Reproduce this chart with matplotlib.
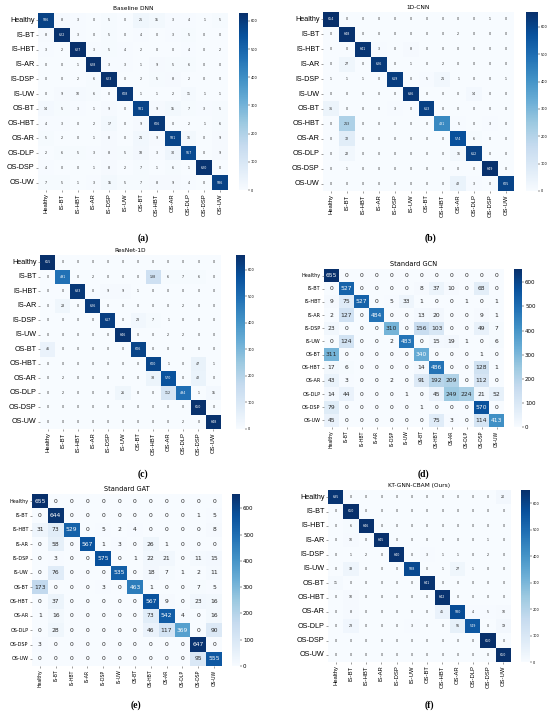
import numpy as np
import matplotlib
matplotlib.use("Agg")
import matplotlib.pyplot as plt
import seaborn as sns

classes = ["Healthy", "IS-BT", "IS-HBT", "IS-AR", "IS-DSP", "IS-UW",
           "OS-BT", "OS-HBT", "OS-AR", "OS-DLP", "OS-DSP", "OS-UW"]

cm_dnn = [
    [586, 8, 3, 0, 5, 0, 25, 15, 3, 4, 1, 5],
    [8, 622, 3, 0, 5, 0, 4, 0, 3, 5, 0, 0],
    [3, 2, 627, 3, 5, 4, 2, 0, 0, 4, 0, 2],
    [0, 0, 1, 628, 3, 3, 1, 9, 5, 6, 0, 0],
    [0, 0, 2, 6, 623, 0, 2, 5, 8, 2, 0, 0],
    [0, 9, 10, 6, 0, 608, 1, 1, 2, 11, 1, 1],
    [14, 5, 3, 1, 9, 0, 581, 9, 15, 7, 3, 5],
    [4, 3, 0, 2, 17, 0, 9, 606, 0, 2, 1, 6],
    [5, 2, 0, 1, 8, 0, 21, 9, 581, 16, 0, 9],
    [2, 6, 5, 3, 8, 5, 18, 3, 30, 567, 0, 9],
    [4, 0, 0, 1, 8, 2, 7, 1, 6, 1, 620, 0],
    [7, 5, 1, 3, 15, 5, 7, 8, 9, 4, 0, 586],
]
cm_cnn = [
    [654, 0, 0, 0, 0, 0, 0, 0, 0, 0, 1, 0],
    [0, 648, 0, 0, 0, 0, 0, 0, 2, 0, 0, 0],
    [0, 0, 641, 3, 0, 8, 0, 0, 0, 0, 0, 0],
    [0, 27, 0, 626, 0, 1, 0, 2, 0, 0, 0, 0],
    [1, 1, 1, 0, 619, 0, 5, 21, 1, 0, 0, 1],
    [0, 0, 0, 0, 0, 636, 0, 0, 0, 14, 0, 0],
    [36, 0, 0, 0, 3, 0, 613, 0, 0, 0, 0, 0],
    [0, 213, 0, 0, 0, 0, 0, 431, 5, 0, 3, 0],
    [0, 72, 0, 0, 0, 0, 0, 0, 574, 6, 0, 0],
    [0, 22, 0, 0, 0, 0, 0, 0, 16, 612, 0, 0],
    [0, 1, 0, 0, 0, 0, 0, 0, 0, 0, 649, 0],
    [0, 0, 0, 0, 0, 0, 0, 0, 42, 3, 0, 605],
]
cm_resnet = [
    [655, 0, 0, 0, 0, 0, 0, 0, 0, 0, 0, 0],
    [0, 491, 0, 2, 0, 0, 0, 138, 6, 7, 6, 0],
    [0, 0, 633, 0, 9, 9, 1, 0, 0, 0, 0, 0],
    [0, 28, 0, 626, 0, 0, 0, 0, 0, 2, 0, 0],
    [0, 0, 0, 0, 617, 0, 23, 7, 1, 0, 0, 0],
    [0, 0, 0, 0, 0, 646, 0, 0, 2, 2, 0, 0],
    [46, 0, 0, 0, 0, 0, 606, 0, 0, 0, 0, 0],
    [0, 0, 0, 0, 0, 0, 0, 600, 1, 0, 47, 1],
    [0, 2, 0, 0, 0, 0, 0, 38, 570, 0, 42, 0],
    [0, 2, 0, 0, 0, 26, 0, 0, 112, 494, 1, 15],
    [0, 0, 0, 0, 0, 0, 0, 0, 0, 0, 650, 0],
    [0, 0, 0, 0, 0, 0, 0, 0, 0, 2, 0, 648],
]
cm_gcn = [
    [655, 0, 0, 0, 0, 0, 0, 0, 0, 0, 0, 0],
    [0, 527, 0, 0, 0, 0, 8, 37, 10, 0, 68, 0],
    [9, 75, 527, 0, 5, 33, 1, 0, 0, 1, 0, 1],
    [2, 127, 0, 484, 0, 0, 13, 20, 0, 0, 9, 1],
    [23, 0, 0, 0, 310, 0, 156, 103, 0, 0, 49, 7],
    [0, 124, 0, 0, 2, 483, 0, 15, 19, 1, 0, 6],
    [311, 0, 0, 0, 0, 0, 340, 0, 0, 0, 1, 0],
    [17, 6, 0, 0, 0, 0, 14, 486, 0, 0, 128, 1],
    [43, 3, 0, 0, 2, 0, 91, 192, 209, 0, 112, 0],
    [14, 44, 0, 0, 0, 1, 0, 45, 249, 224, 21, 52],
    [79, 0, 0, 0, 0, 0, 1, 0, 0, 0, 570, 0],
    [45, 0, 0, 0, 0, 0, 0, 75, 3, 0, 114, 413],
]
cm_gat = [
    [655, 0, 0, 0, 0, 0, 0, 0, 0, 0, 0, 0],
    [0, 644, 0, 0, 0, 0, 0, 0, 0, 0, 1, 5],
    [31, 73, 529, 0, 5, 2, 4, 0, 0, 0, 0, 8],
    [0, 58, 0, 567, 1, 3, 0, 26, 1, 0, 0, 0],
    [0, 3, 0, 0, 575, 0, 1, 22, 21, 0, 11, 15],
    [0, 76, 0, 0, 0, 535, 0, 18, 7, 1, 2, 11],
    [173, 0, 0, 0, 3, 0, 463, 1, 0, 0, 7, 5],
    [0, 37, 0, 0, 0, 0, 0, 567, 9, 0, 23, 16],
    [1, 16, 0, 0, 0, 0, 0, 73, 542, 4, 0, 16],
    [0, 28, 0, 0, 0, 0, 0, 46, 117, 369, 0, 90],
    [3, 0, 0, 0, 0, 0, 0, 0, 0, 0, 647, 0],
    [0, 0, 0, 0, 0, 0, 0, 0, 0, 0, 95, 555],
]
cm_ours = [
    [635, 0, 0, 0, 0, 0, 0, 0, 0, 0, 0, 20],
    [0, 650, 0, 0, 0, 0, 0, 0, 0, 0, 0, 0],
    [0, 6, 646, 0, 0, 0, 0, 0, 0, 0, 0, 0],
    [0, 10, 0, 645, 0, 0, 0, 0, 0, 0, 1, 0],
    [0, 1, 2, 0, 640, 0, 3, 1, 1, 0, 2, 0],
    [0, 33, 0, 0, 0, 588, 0, 1, 27, 1, 0, 0],
    [11, 0, 0, 0, 0, 0, 641, 0, 0, 0, 0, 0],
    [0, 10, 0, 0, 0, 0, 0, 642, 0, 0, 0, 0],
    [0, 8, 0, 0, 0, 0, 0, 45, 580, 4, 5, 10],
    [0, 23, 0, 0, 0, 3, 0, 0, 56, 549, 0, 19],
    [0, 0, 0, 0, 0, 0, 0, 0, 0, 0, 650, 0],
    [0, 0, 0, 0, 0, 0, 0, 0, 0, 0, 0, 650],
]

titles = ["Baseline DNN", "1D-CNN", "ResNet-1D", "Standard GCN", "Standard GAT", "KT-GNN-CBAM (Ours)"]
panel_labels = ["(a)", "(b)", "(c)", "(d)", "(e)", "(f)"]
matrices = [cm_dnn, cm_cnn, cm_resnet, cm_gcn, cm_gat, cm_ours]

W, H = 550, 713
fig = plt.figure(figsize=(W / 100, H / 100), dpi=100)

# pixel boxes (x0, y0, x1, y1) for heatmap and colorbar, style flag
layout = [
    ((38, 13, 228, 190), (239, 13, 248, 190), "small", 238),
    ((323, 12, 514, 191), (526, 12, 538, 191), "small", 238),
    ((40, 255, 221, 429), (236, 255, 245, 429), "small", 474),
    ((324, 269, 504, 427), (514, 269, 522, 427), "big", 474),
    ((32, 494, 222, 666), (232, 494, 240, 666), "big", 705),
    ((328, 490, 511, 662), (521, 490, 530, 662), "small", 705),
]


def rect(b):
    x0, y0, x1, y1 = b
    return [x0 / W, 1 - y1 / H, (x1 - x0) / W, (y1 - y0) / H]


for i, (cm, title, lab) in enumerate(zip(matrices, titles, panel_labels)):
    hb, cb, style, laby = layout[i]
    ax = fig.add_axes(rect(hb))
    cax = fig.add_axes(rect(cb))
    arr = np.array(cm)
    if style == "small":
        annot_size, tick_font, ytick_size, xtick_size, cbar_size, title_size = 2.3, "Liberation Sans", 5.2, 4.2, 2.5, 4.2
    else:
        annot_size, tick_font, ytick_size, xtick_size, cbar_size, title_size = 4.3, "DejaVu Sans", 3.5, 3.3, 4.0, 4.8
    sns.heatmap(arr, ax=ax, cbar_ax=cax, cmap="Blues", annot=True, fmt="d",
                annot_kws={"size": annot_size, "family": "DejaVu Sans"},
                linewidths=0.0, vmin=0, xticklabels=classes, yticklabels=classes)
    ax.set_title(title, fontsize=title_size, family="DejaVu Sans", pad=2)
    ax.tick_params(axis="both", length=1.5, width=0.4, pad=1, color="#555555")
    for t in ax.get_yticklabels():
        t.set_fontsize(ytick_size)
        t.set_family(tick_font)
        t.set_rotation(0)
    for t in ax.get_xticklabels():
        t.set_fontsize(xtick_size)
        t.set_family(tick_font)
        t.set_rotation(90)
    cax.tick_params(labelsize=cbar_size, length=1.2, width=0.3, pad=1)
    cax.set_yticks([0, 100, 200, 300, 400, 500, 600])
    for s in cax.spines.values():
        s.set_visible(False)
    cx = (hb[0] + cb[1] if False else (hb[0] + hb[2]) / 2)
    fig.text((hb[0] + cb[2]) / 2 / W, 1 - laby / H, lab, ha="center", va="center",
             fontsize=7, family="Liberation Serif", fontweight="bold")

fig.savefig("out.png", dpi=100, facecolor="white")
